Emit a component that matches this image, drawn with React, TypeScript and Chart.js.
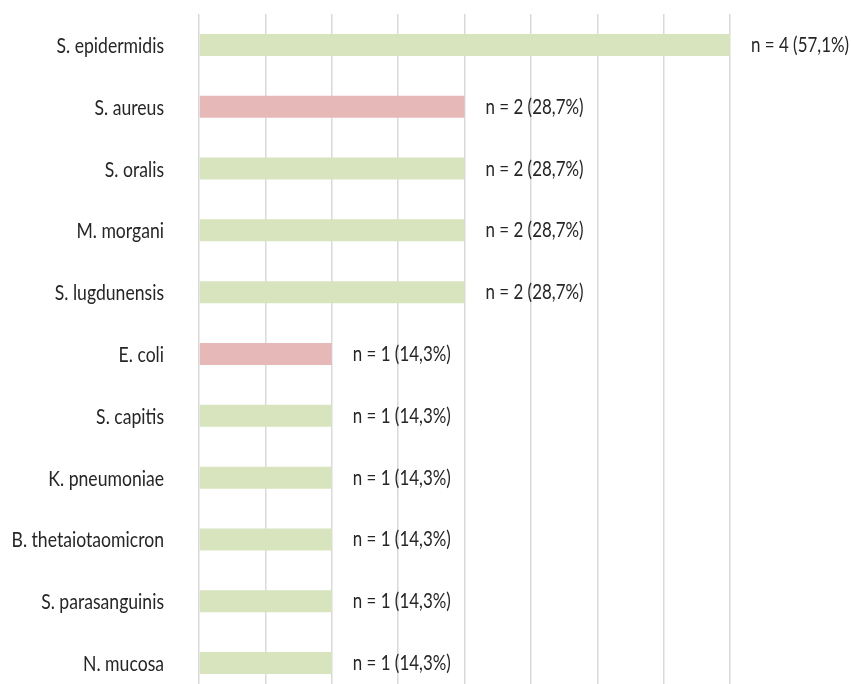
import React, { useEffect, useRef } from "react";
import { Chart, registerables } from "chart.js";

Chart.register(...registerables);

const species = [
  "S. epidermidis",
  "S. aureus",
  "S. oralis",
  "M. morgani",
  "S. lugdunensis",
  "E. coli",
  "S. capitis",
  "K. pneumoniae",
  "B. thetaiotaomicron",
  "S. parasanguinis",
  "N. mucosa",
];
const counts = [4, 2, 2, 2, 2, 1, 1, 1, 1, 1, 1];
const percents = ["57,1", "28,7", "28,7", "28,7", "28,7", "14,3", "14,3", "14,3", "14,3", "14,3", "14,3"];
const gramNegative = [false, true, false, false, false, true, false, false, false, false, false];

const GREEN = "#d7e4bd";
const RED = "#e6b9b8";
const TEXT = "#262626";
const FONT = "22px Lato, 'Open Sans', sans-serif";
// narrow, Calibri-like lettering: squeeze the glyphs horizontally
const NAME_SQUEEZE = 0.8;
const VALUE_SQUEEZE = 0.77;

function drawNarrow(
  ctx: CanvasRenderingContext2D,
  text: string,
  x: number,
  y: number,
  align: "left" | "right",
  squeeze: number
) {
  ctx.save();
  ctx.translate(x, y);
  ctx.scale(squeeze, 1);
  ctx.textAlign = align;
  ctx.fillText(text, 0, 0);
  ctx.restore();
}

const textLabels = {
  id: "textLabels",
  afterDatasetsDraw(chart: any) {
    const ctx: CanvasRenderingContext2D = chart.ctx;
    const meta = chart.getDatasetMeta(0);
    const yScale = chart.scales.y;
    ctx.save();
    ctx.font = FONT;
    ctx.fillStyle = TEXT;
    ctx.textBaseline = "alphabetic";
    species.forEach((name, i) => {
      const y = yScale.getPixelForValue(i);
      drawNarrow(ctx, name, yScale.right - 35, y + 8, "right", NAME_SQUEEZE);
    });
    meta.data.forEach((bar: any, i: number) => {
      drawNarrow(ctx, `n = ${counts[i]} (${percents[i]}%)`, bar.x + 21, bar.y + 7, "left", VALUE_SQUEEZE);
    });
    ctx.restore();
  },
};

export default function App() {
  const ref = useRef<HTMLCanvasElement | null>(null);

  useEffect(() => {
    if (!ref.current) return;
    const chart = new Chart(ref.current, {
      type: "bar",
      data: {
        labels: species,
        datasets: [
          {
            data: counts,
            backgroundColor: gramNegative.map((g) => (g ? RED : GREEN)),
            borderWidth: 0,
            categoryPercentage: 1,
            barPercentage: 0.356,
          },
        ],
      },
      options: {
        indexAxis: "y",
        animation: false,
        responsive: false,
        maintainAspectRatio: false,
        layout: { padding: { top: 14, right: 121, bottom: 6, left: 0 } },
        plugins: { legend: { display: false }, tooltip: { enabled: false } },
        scales: {
          x: {
            min: 0,
            max: 4,
            ticks: { display: false, stepSize: 0.5 },
            grid: { color: "#d9d9d9", lineWidth: 1.5, drawTicks: false },
            border: { display: false },
          },
          y: {
            grid: { display: false },
            border: { display: false },
            ticks: { display: false },
            afterFit(scale: any) {
              scale.width = 199;
              scale.paddingTop = 0;
              scale.paddingBottom = 0;
            },
          },
        },
      },
      plugins: [textLabels],
    });
    return () => chart.destroy();
  }, []);

  return (
    <div
      style={{
        position: "fixed",
        left: 0,
        top: 0,
        width: 851,
        height: 684,
        overflow: "hidden",
        background: "#ffffff",
      }}
    >
      <canvas ref={ref} width={851} height={700} style={{ display: "block" }} />
    </div>
  );
}
